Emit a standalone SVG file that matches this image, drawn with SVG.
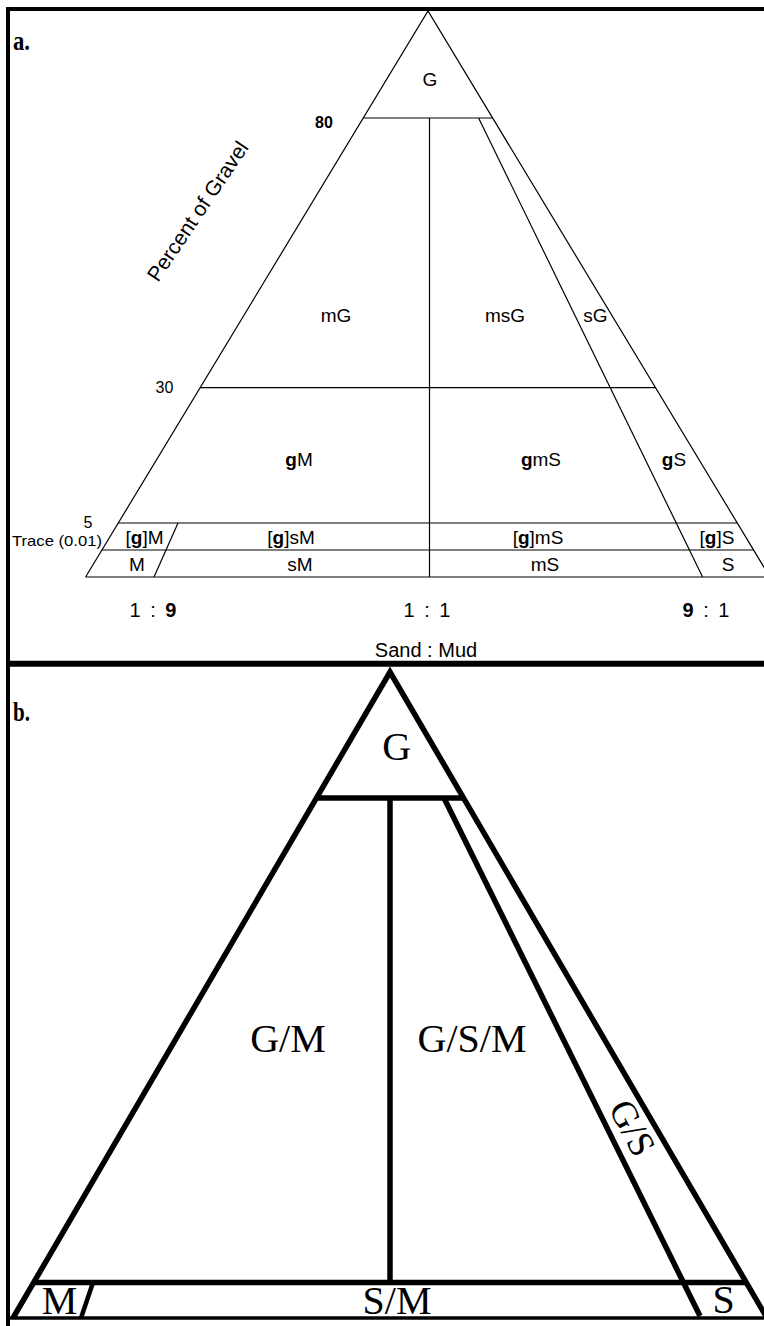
<svg xmlns="http://www.w3.org/2000/svg" width="764" height="1326" viewBox="0 0 764 1326">
<style>
.thin{stroke:#000;stroke-width:1.2;fill:none;stroke-linecap:butt}
.thick{stroke:#000;stroke-width:5.5;fill:none;stroke-linecap:butt;stroke-linejoin:miter}
.med{stroke:#000;stroke-width:4.5;fill:none}
.frame{stroke:#000;fill:none}
.sa{font-family:"Liberation Sans",Arial,sans-serif;font-size:19px;fill:#000;text-anchor:middle}
.sr{font-family:"Liberation Serif","Times New Roman",serif;font-size:40px;fill:#000;text-anchor:middle}
.lbl{font-family:"Liberation Serif","Times New Roman",serif;font-weight:bold;font-size:27px;fill:#000}
.b{font-weight:bold}
</style>
<rect width="764" height="1326" fill="#fff"/>
<g id="frame">
<line class="frame" x1="6" y1="9" x2="764" y2="9" stroke-width="4"/>
<line class="frame" x1="8" y1="7" x2="8" y2="1326" stroke-width="4"/>
<line class="frame" x1="6" y1="663.7" x2="764" y2="663.7" stroke-width="6"/>
<line class="frame" x1="8" y1="1318" x2="764" y2="1318" stroke-width="3.5"/>
</g>
<g id="panel-a">
<text class="lbl" x="13" y="50" textLength="17" lengthAdjust="spacingAndGlyphs">a.</text>
<g id="a-lines">
<polyline class="thin" points="85.6,577 428,11 769.9,577"/>
<line class="thin" x1="363.3" y1="118" x2="492.6" y2="118"/>
<line class="thin" x1="200.1" y1="387.7" x2="655.5" y2="387.7"/>
<line class="thin" x1="118.2" y1="523" x2="737.2" y2="523"/>
<line class="thin" x1="101.9" y1="550" x2="753.6" y2="550"/>
<line class="thin" x1="85.6" y1="577" x2="764" y2="577"/>
<line class="thin" x1="429.5" y1="118" x2="429.5" y2="577"/>
<line class="thin" x1="478.6" y1="118" x2="702.6" y2="577"/>
<line class="thin" x1="178" y1="523" x2="154" y2="577"/>
</g>
<g id="a-labels">
<text class="sa" x="430" y="86">G</text>
<text class="sa" x="336" y="322">mG</text>
<text class="sa" x="505" y="322">msG</text>
<text class="sa" x="595.5" y="322">sG</text>
<text class="sa" x="299" y="466"><tspan class="b">g</tspan>M</text>
<text class="sa" x="541" y="466"><tspan class="b">g</tspan>mS</text>
<text class="sa" x="674" y="466"><tspan class="b">g</tspan>S</text>
<text class="sa" x="144.5" y="544">[<tspan class="b">g</tspan>]M</text>
<text class="sa" x="291" y="544">[<tspan class="b">g</tspan>]sM</text>
<text class="sa" x="538" y="544">[<tspan class="b">g</tspan>]mS</text>
<text class="sa" x="717" y="544">[<tspan class="b">g</tspan>]S</text>
<text class="sa" x="137" y="571">M</text>
<text class="sa" x="300" y="571">sM</text>
<text class="sa" x="545" y="571">mS</text>
<text class="sa" x="728" y="571">S</text>
<text class="sa" x="324" y="128" style="font-size:16px;font-weight:bold">80</text>
<text class="sa" x="164.5" y="393" style="font-size:16px">30</text>
<text class="sa" x="88" y="528" style="font-size:16px">5</text>
<text class="sa" x="57" y="546" style="font-size:15px" textLength="90" lengthAdjust="spacingAndGlyphs">Trace (0.01)</text>
<text class="sa" transform="translate(158,283) rotate(-56)" x="0" y="0" style="font-size:21px;text-anchor:start">Percent of Gravel</text>
<text class="sa" x="154" y="617" letter-spacing="2" style="font-size:20px">1 : <tspan class="b">9</tspan></text>
<text class="sa" x="428" y="617" letter-spacing="2" style="font-size:20px">1 : 1</text>
<text class="sa" x="707" y="617" letter-spacing="2" style="font-size:20px"><tspan class="b">9</tspan> : 1</text>
<text class="sa" x="426" y="657" style="font-size:20px">Sand : Mud</text>
</g>
</g>
<g id="panel-b">
<text class="lbl" x="13" y="721" textLength="17" lengthAdjust="spacingAndGlyphs">b.</text>
<g id="b-lines">
<polyline class="thick" points="13,1318 390,672 767,1318"/>
<line class="thick" x1="316.4" y1="798" x2="463.6" y2="798"/>
<line class="thick" x1="390" y1="798" x2="390" y2="1282.5"/>
<line class="thick" x1="444" y1="798" x2="700" y2="1316"/>
<line class="thick" x1="33.8" y1="1282.5" x2="746.2" y2="1282.5"/>
<line class="med" x1="93" y1="1282.5" x2="81" y2="1318"/>
</g>
<g id="b-labels">
<text class="sr" x="396.7" y="760">G</text>
<text class="sr" x="288" y="1052">G/M</text>
<text class="sr" x="472" y="1052">G/S/M</text>
<text class="sr" transform="translate(632,1128) rotate(62)" x="0" y="12" style="font-size:37px">G/S</text>
<text class="sr" x="59.5" y="1314">M</text>
<text class="sr" x="397" y="1314">S/M</text>
<text class="sr" x="723.5" y="1313">S</text>
</g>
</g>
</svg>
